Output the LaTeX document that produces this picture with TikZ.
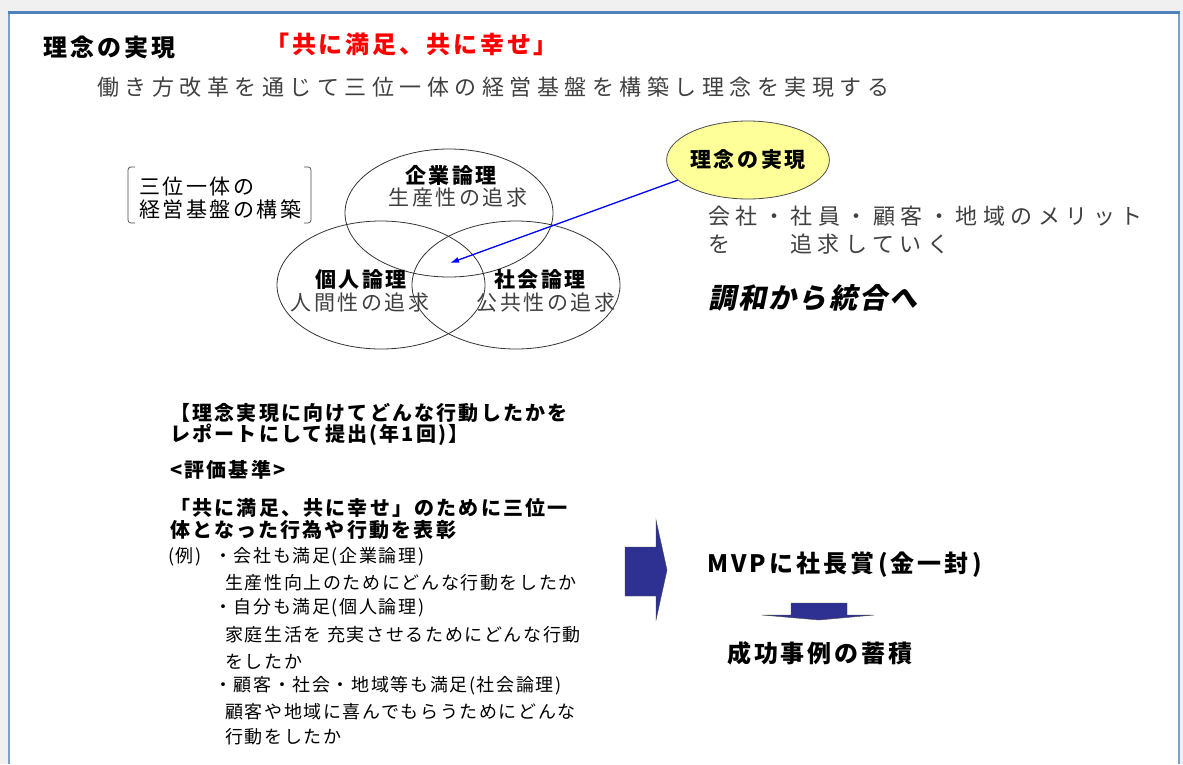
\documentclass[tikz,border=0pt]{standalone}
\usepackage{fontspec}
\setmainfont{Noto Sans CJK JP}
\newfontfamily\jpls[LetterSpace=25]{Noto Sans CJK JP}
\newfontfamily\jpit[FakeSlant=0.2]{Noto Sans CJK JP}
\newcommand\jpf[2]{\fontsize{#1}{#1}\selectfont\addfontfeature{LetterSpace=#2}}
\usetikzlibrary{shapes.geometric,arrows.meta}
\definecolor{framec}{HTML}{4F81BD}
\definecolor{txtgray}{HTML}{404040}
\definecolor{arrowblue}{HTML}{2E3192}
\definecolor{yel}{HTML}{FFFF99}
\tikzset{
  venn/.style={ellipse, draw=black!80, line width=0.8pt, inner sep=0pt, minimum width=208pt, minimum height=128pt},
  lbl/.style={inner sep=0pt, anchor=center},
  wl/.style={inner sep=0pt, anchor=west},
  vlab/.style={lbl, font={\jpf{21}{12}\bfseries}},
  vsub/.style={lbl, text=txtgray, font={\jpf{21}{12}}},
  head/.style={wl, font={\jpf{20}{11}\bfseries}},
  ex/.style={wl, font={\jpf{18}{9}}},
  blk/.style={fill=arrowblue, draw=black!70, line width=0.4pt},
}
\begin{document}
\begin{tikzpicture}[x=1pt,y=-1pt]
\useasboundingbox (0,0) rectangle (1183,764);
\fill[black!6] (0,0) rectangle (1183,764);
\fill[white] (8,12) rectangle (1180,764);
\draw[framec!75, line width=2pt] (9,764) -- (9,13) -- (1179,13) -- (1179,764);
\draw[framec, line width=3pt] (8,12.5) -- (1180,12.5);

% title
\node[wl, font={\jpf{24}{13}\bfseries}] (title) at (43,47) {理念の実現};
\node[wl, text=red, font={\jpf{24}{12}\bfseries}] (motto) at (265,44) {「共に満足、共に幸せ」};
\node[wl, text=txtgray] (sub) at (97,87) {\jpls\fontsize{22}{22}\selectfont 働き方改革を通じて三位一体の経営基盤を構築し理念を実現する};

% bracket
\node[wl, font={\jpf{21}{12}}, align=left] (tri) at (139,198) {三位一体の\\[2pt]経営基盤の構築};
\draw[black!70, line width=0.7pt, rounded corners=3pt] (135,167) -- (128,167) -- (128,223) -- (135,223);
\draw[black!70, line width=0.7pt, rounded corners=3pt] (304,167) -- (311,167) -- (311,223) -- (304,223);

% venn
\node[venn] (top) at (449,213) {};
\node[venn] (left) at (381,285) {};
\node[venn] (right) at (516,285) {};
\node[vlab] (kigyo) at (451,175) {企業論理};
\node[vsub] (kigyo2) at (458,198) {生産性の追求};
\node[vlab] (kojin) at (361,280) {個人論理};
\node[vsub] (kojin2) at (360,303) {人間性の追求};
\node[vlab] (shakai) at (540,280) {社会論理};
\node[vsub] (shakai2) at (546,303) {公共性の追求};
\coordinate (vc) at (450,263);

% yellow ellipse
\node[ellipse, fill=yel, draw=black!70, line width=0.8pt, minimum width=150pt, minimum height=78pt, inner sep=0pt, font={\jpf{21}{12}\bfseries}] (rinen) at (748,160) {理念の実現};
\draw[blue, line width=1.3pt, -{Latex[length=9pt,width=6pt]}] (rinen.196) -- (vc);

\node[wl, text=txtgray] (merit1) at (708,216) {\jpls\fontsize{22}{22}\selectfont 会社・社員・顧客・地域のメリット};
\node[wl, text=txtgray] (merit2) at (708,244) {\jpls\fontsize{22}{22}\selectfont を};
\node[wl, text=txtgray] (merit3) at (790,244) {\jpls\fontsize{22}{22}\selectfont 追求していく};
\node[wl] (chowa) at (708,298) {\jpit\fontsize{28}{28}\selectfont\addfontfeature{LetterSpace=8}\bfseries 調和から統合へ};

% bottom-left text
\node[head] (l1) at (170,413) {【理念実現に向けてどんな行動したかを};
\node[head] (l2) at (170,435) {レポートにして提出(年1回)】};
\node[head] (l3) at (170,470) {<評価基準>};
\node[head] (l4) at (170,508) {「共に満足、共に幸せ」のために三位一};
\node[head] (l5) at (170,530) {体となった行為や行動を表彰};
\node[ex] (e0) at (168,557) {(例)};
\node[ex] (e1) at (214,557) {・会社も満足(企業論理)};
\node[ex] (e2) at (225,583) {生産性向上のためにどんな行動をしたか};
\node[ex] (e3) at (214,608) {・自分も満足(個人論理)};
\node[ex] (e4) at (225,635) {家庭生活を 充実させるためにどんな行動};
\node[ex] (e5) at (225,662) {をしたか};
\node[ex] (e6) at (214,686) {・顧客・社会・地域等も満足(社会論理)};
\node[ex] (e7) at (225,712) {顧客や地域に喜んでもらうためにどんな};
\node[ex] (e8) at (225,737) {行動をしたか};

% arrows
\draw[blk] (625,547) -- (656,547) -- (656,520) -- (667,570) -- (656,620) -- (656,596) -- (625,596) -- cycle;
\node[wl, font={\jpf{24}{13}\bfseries}] (mvp) at (707,565) {MVPに社長賞(金一封)};
\draw[blk] (791,603) -- (847,603) -- (847,615) -- (874,615) -- (819,620) -- (762,615) -- (791,615) -- cycle;
\node[wl, font={\jpf{24}{12}\bfseries}] (seiko) at (727,653) {成功事例の蓄積};
\end{tikzpicture}
\end{document}
